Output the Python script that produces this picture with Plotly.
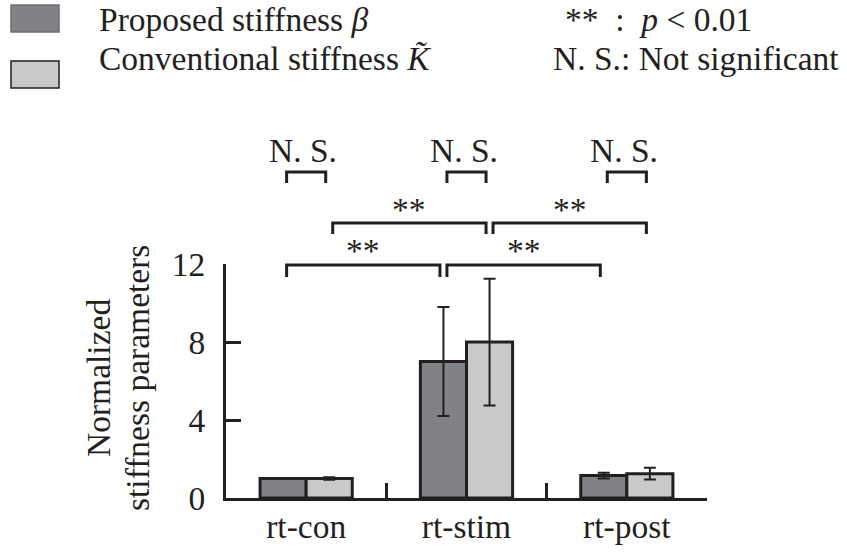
import plotly.graph_objects as go

# ---------------- data ----------------
categories = ["rt-con", "rt-stim", "rt-post"]
proposed_beta = [1.0, 7.0, 1.15]
proposed_err = [0.03, 2.8, 0.15]
conventional_k = [1.0, 8.0, 1.25]
conventional_err = [0.06, 3.25, 0.3]
y_ticks = [0, 4, 8, 12]

# significance brackets: (cat_a, series_a, cat_b, series_b, label, row)
brackets = [
    ("rt-con", 0, "rt-con", 1, "N. S.", 2),
    ("rt-stim", 0, "rt-stim", 1, "N. S.", 2),
    ("rt-post", 0, "rt-post", 1, "N. S.", 2),
    ("rt-con", 1, "rt-stim", 1, "**", 1),
    ("rt-stim", 1, "rt-post", 1, "**", 1),
    ("rt-con", 0, "rt-stim", 0, "**", 0),
    ("rt-stim", 0, "rt-post", 0, "**", 0),
]

# ---------------- style ----------------
INK = "#231f20"
DARK = "#808285"
LIGHT = "#c8c9cb"
FONT = "Liberation Serif"
FS = 33.5
W, H = 847, 552
L, R, T, B = 226, 140, 264, 54
BARGAP = 0.425

fig = go.Figure()
fig.add_trace(go.Bar(
    x=categories, y=proposed_beta, name="Proposed stiffness β",
    marker=dict(color=DARK, line=dict(color=INK, width=3)),
    error_y=dict(type="data", array=proposed_err, color=INK, thickness=2, width=6),
))
fig.add_trace(go.Bar(
    x=categories, y=conventional_k, name="Conventional stiffness K",
    marker=dict(color=LIGHT, line=dict(color=INK, width=3)),
    error_y=dict(type="data", array=conventional_err, color=INK, thickness=2, width=6),
))

plot_w = W - L - R
plot_h = H - T - B


def px2paper_x(px):
    return (px - L) / plot_w


def px2paper_y(py):
    return (H - B - py) / plot_h


ncat = len(categories)


def bar_center_paper(cat, series):
    i = categories.index(cat)
    off = (1 - BARGAP) / 4
    xv = i - off if series == 0 else i + off
    return (xv + 0.5) / ncat


shapes = []
annotations = []
# row geometry in pixels: (bracket top, leg bottom, label center)
rows = {0: (265, 277, 247), 1: (223, 234, 206), 2: (172, 183, 150)}
inset = 3.5 / plot_w
for ca, sa, cb, sb, lab, row in brackets:
    xa = bar_center_paper(ca, sa) + inset
    xb = bar_center_paper(cb, sb) - inset
    top, bot, ly = rows[row]
    yt, yb = px2paper_y(top), px2paper_y(bot)
    shapes.append(dict(type="path", xref="paper", yref="paper",
                       path=f"M {xa} {yb} L {xa} {yt} L {xb} {yt} L {xb} {yb}",
                       line=dict(color=INK, width=3)))
    if lab == "**":
        annotations.append(dict(x=(xa + xb) / 2, y=px2paper_y(ly + 3), xref="paper", yref="paper",
                                text="**", showarrow=False, xanchor="center", yanchor="middle",
                                font=dict(family=FONT, size=FS, color=INK)))
    else:
        annotations.append(dict(x=(xa + xb) / 2 - 3 / plot_w, y=px2paper_y(ly), xref="paper",
                                yref="paper", text=lab, showarrow=False, xanchor="center",
                                yanchor="middle", font=dict(family=FONT, size=FS, color=INK)))

# legend boxes
for (y0, y1, col, edge) in [(5, 32, DARK, "#6d6e71"), (61, 88, LIGHT, INK)]:
    shapes.append(dict(type="rect", xref="paper", yref="paper",
                       x0=px2paper_x(11), x1=px2paper_x(59), y0=px2paper_y(y1), y1=px2paper_y(y0),
                       fillcolor=col, line=dict(color=edge, width=1.5)))

legend_texts = [
    (97, 19, "Proposed stiffness <i>β</i>"),
    (97, 58, "Conventional stiffness <i>K\u0303</i>"),
    (563, 19, "**  :  <i>p</i> < 0.01"),
    (551, 58, "N. S.: Not significant"),
]
for x, y, t in legend_texts:
    annotations.append(dict(x=px2paper_x(x), y=px2paper_y(y), xref="paper", yref="paper",
                            text=t, showarrow=False, xanchor="left", yanchor="middle",
                            font=dict(family=FONT, size=FS, color=INK)))

# y-axis title (two lines)
for x, t in [(98, "Normalized"), (137, "stiffness parameters")]:
    annotations.append(dict(x=px2paper_x(x), y=px2paper_y(378), xref="paper", yref="paper",
                            text=t, showarrow=False, textangle=-90,
                            xanchor="center", yanchor="middle",
                            font=dict(family=FONT, size=FS, color=INK)))

fig.update_layout(
    template="none",
    width=W, height=H,
    margin=dict(l=L, r=R, t=T, b=B, pad=0, autoexpand=False),
    paper_bgcolor="white", plot_bgcolor="white",
    barmode="group", bargap=BARGAP, bargroupgap=0,
    showlegend=False,
    shapes=shapes, annotations=annotations,
    font=dict(family=FONT, size=FS, color=INK),
)
fig.update_xaxes(
    automargin=False,
    range=[-0.5, ncat - 0.5], showline=True, linecolor=INK, linewidth=2.5,
    ticks="inside", tickson="boundaries", ticklen=15, tickwidth=2.5, tickcolor=INK,
    showgrid=False, zeroline=False, ticklabelstandoff=-3,
    tickfont=dict(family=FONT, size=FS, color=INK),
)
fig.update_yaxes(
    automargin=False,
    range=[0, 12], tickvals=y_ticks, showline=True, linecolor=INK, linewidth=3,
    ticks="inside", ticklen=15, tickwidth=2.5, tickcolor=INK,
    showgrid=False, zeroline=False, ticklabelstandoff=11,
    tickfont=dict(family=FONT, size=FS, color=INK),
)

fig.write_html("out.html")
